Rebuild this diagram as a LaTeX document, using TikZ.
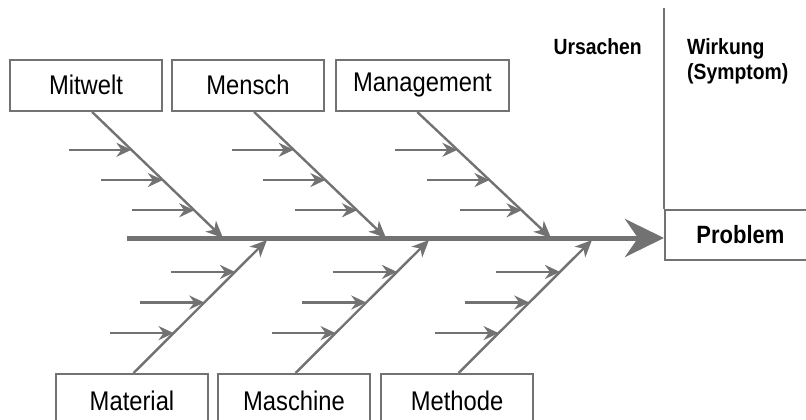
\documentclass[tikz,border=0pt]{standalone}
\usepackage{fontspec}
\setmainfont{Liberation Sans}[FakeStretch=0.88]
\usetikzlibrary{arrows.meta,calc}
\definecolor{bone}{HTML}{727272}
\begin{document}
\begin{tikzpicture}[x=1pt,y=-1pt,
  causebox/.style={draw=bone, line width=2pt, inner sep=0pt,
    minimum width=152pt, minimum height=51pt,
    font=\fontsize{27}{30}\selectfont},
  headtext/.style={font=\bfseries\fontsize{22}{26}\selectfont, inner sep=0pt},
  bonearrow/.style={draw=bone, line width=2.4pt,
    -{Stealth[length=17pt,width=15pt,inset=5pt]}},
  twig/.style={draw=bone, line width=2.4pt,
    -{Stealth[length=15pt,width=14pt,inset=5pt]}},
  spine/.style={draw=bone, line width=5pt,
    -{Stealth[length=39pt,width=38pt,inset=13pt]}}]
\useasboundingbox (0,0) rectangle (806,420);

% cause categories above the spine
\node[causebox, anchor=north west] (mitwelt) at (9,59) {\raisebox{1pt}{Mitwelt}};
\node[causebox, anchor=north west] (mensch) at (171,59) {\raisebox{1pt}{Mensch}};
\node[causebox, anchor=north west, minimum width=173pt] (management) at (335,59) {\raisebox{1pt}{Management}};

% cause categories below the spine (running off the lower edge)
\node[causebox, anchor=north west, minimum height=60pt] (material) at (55,373) {\raisebox{7pt}{Material}};
\node[causebox, anchor=north west, minimum height=60pt] (maschine) at (217,373) {\raisebox{7pt}{Maschine}};
\node[causebox, anchor=north west, minimum height=60pt] (methode) at (380,373) {\raisebox{7pt}{Methode}};

% effect box, its right side lies beyond the edge
\node[draw=bone, line width=2pt, anchor=west, minimum width=151pt, minimum height=50pt,
      font=\bfseries\fontsize{25}{28}\selectfont, inner sep=0pt]
      (problem) at (664,235) {Problem};
\coordinate (paneltop) at (664,8);
\draw[bone, line width=2pt] (problem.north west) -- (paneltop);

\node[headtext, anchor=base east] (ursachen) at (642,55) {Ursachen};
\node[headtext, anchor=base west] (wirkung) at (687,55) {Wirkung};
\node[headtext, anchor=base west] (symptom) at (687,80) {(Symptom)};

% main spine
\coordinate (tail) at (127,238);
\draw[spine] (tail) -- (tail -| problem.west);

% spine points where the bones meet
\coordinate (tmw) at (223,238);
\coordinate (tme) at (386,238);
\coordinate (tma) at (551,238);
\coordinate (tmt) at (267,240);
\coordinate (tms) at (429,240);
\coordinate (tmo) at (592,240);

% starting points of the bones on the boxes
\coordinate (smw) at ($(mitwelt.south west)!0.54!(mitwelt.south east)$);
\coordinate (sme) at ($(mensch.south west)!0.54!(mensch.south east)$);
\coordinate (sma) at ($(management.south west)!0.47!(management.south east)$);
\coordinate (smt) at ($(material.north west)!0.51!(material.north east)$);
\coordinate (sms) at ($(maschine.north west)!0.51!(maschine.north east)$);
\coordinate (smo) at ($(methode.north west)!0.51!(methode.north east)$);

\foreach \s/\t in {smw/tmw, sme/tme, sma/tma, smt/tmt, sms/tms, smo/tmo}
  \draw[bonearrow] (\s) -- (\t);

% sub-causes along the upper bones
\foreach \s/\t in {smw/tmw, sme/tme, sma/tma}
  \foreach \f in {0.3,0.54,0.78} {
    \coordinate (p) at ($(\s)!\f!(\t)$);
    \draw[twig] ($(p)+(-62,0)$) -- (p);
  }

% sub-causes along the lower bones
\foreach \s/\t in {smt/tmt, sms/tms, smo/tmo}
  \foreach \f in {0.3,0.53,0.76} {
    \coordinate (p) at ($(\s)!\f!(\t)$);
    \draw[twig] ($(p)+(-64,0)$) -- (p);
  }
\end{tikzpicture}
\end{document}
